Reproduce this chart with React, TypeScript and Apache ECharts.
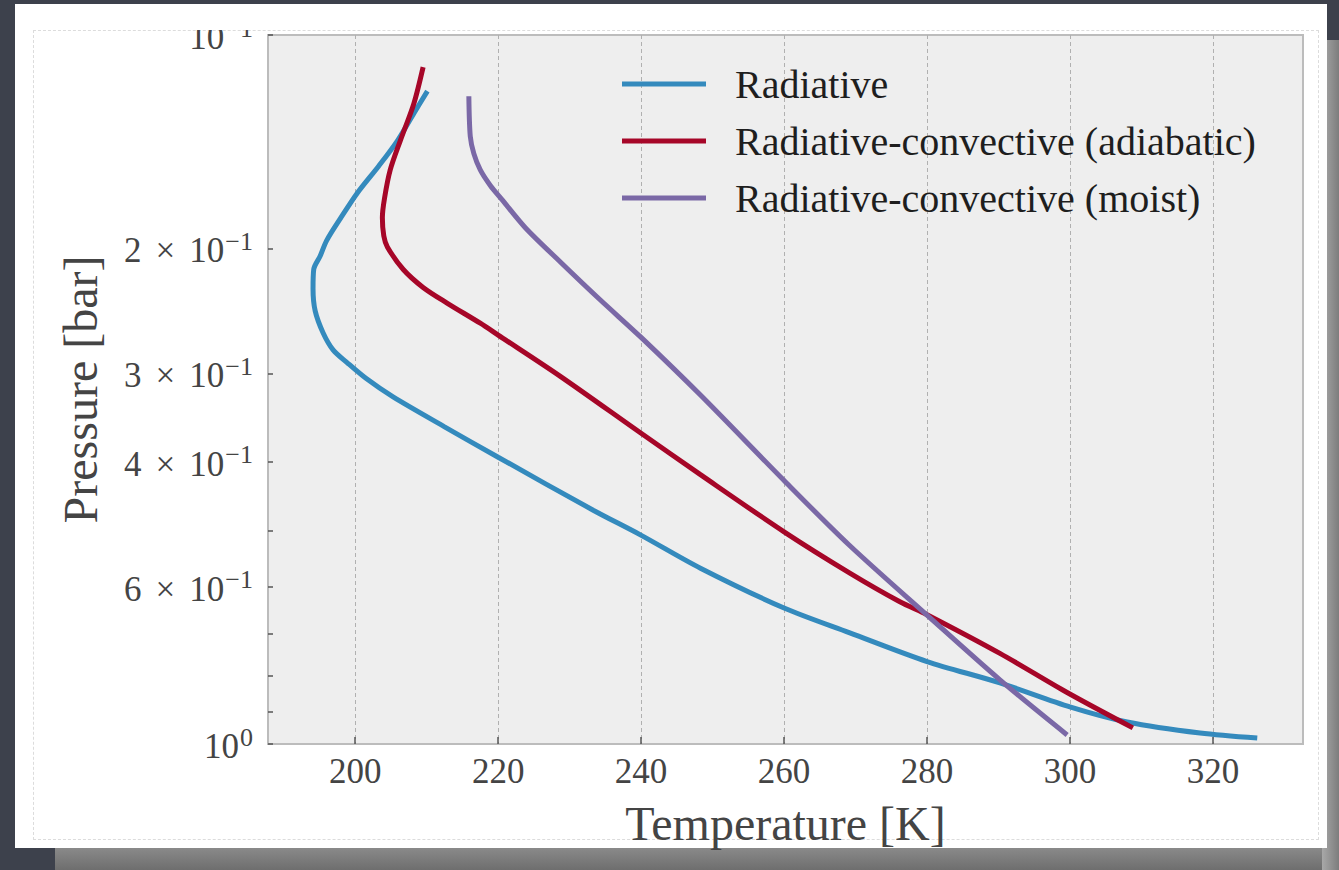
import React, { useEffect, useRef } from "react";
import * as echarts from "echarts";

// Radiative profile (temperature K, pressure bar)
const radiativeT = [210.1, 208.2, 205.9, 203.3, 200.3, 198.0, 196.0, 195.1, 194.2, 194.1, 194.4, 195.5, 196.9, 198.9, 201.5, 205.3, 212.5, 220.0, 233.3, 239.9, 248.3, 260.0, 269.2, 280.0, 290.2, 300.1, 308.0, 318.2, 326.2];
const radiativeP = [0.120, 0.129, 0.141, 0.153, 0.167, 0.181, 0.195, 0.205, 0.214, 0.228, 0.245, 0.263, 0.278, 0.290, 0.305, 0.324, 0.357, 0.394, 0.468, 0.507, 0.565, 0.643, 0.697, 0.765, 0.820, 0.887, 0.931, 0.965, 0.981];

// Radiative-convective (adiabatic)
const adiabaticT = [209.5, 208.2, 206.3, 204.9, 204.1, 203.8, 204.0, 204.5, 206.7, 209.5, 212.9, 217.5, 220.0, 228.7, 239.9, 248.3, 260.0, 269.2, 276.2, 280.0, 290.2, 299.6, 308.8];
const adiabaticP = [0.111, 0.125, 0.141, 0.155, 0.170, 0.181, 0.192, 0.199, 0.214, 0.227, 0.239, 0.255, 0.265, 0.303, 0.364, 0.417, 0.502, 0.574, 0.630, 0.657, 0.745, 0.846, 0.949];

// Radiative-convective (moist)
const moistT = [215.9, 216.1, 216.6, 217.5, 218.9, 220.6, 223.8, 228.7, 234.3, 240.0, 248.3, 259.9, 269.1, 280.0, 290.2, 299.6];
const moistP = [0.122, 0.139, 0.147, 0.155, 0.163, 0.171, 0.187, 0.209, 0.2365, 0.267, 0.322, 0.424, 0.524, 0.658, 0.812, 0.971];

const seriesNames = ["Radiative", "Radiative-convective (adiabatic)", "Radiative-convective (moist)"];
const seriesColors = ["#348ABD", "#A60628", "#7A68A6"];

const xTickValues = [200, 220, 240, 260, 280, 300, 320];
const yLabelValues = [0.1, 0.2, 0.3, 0.4, 0.6, 1];
const yTickValues = [0.1, 0.2, 0.3, 0.4, 0.5, 0.6, 0.7, 0.8, 0.9, 1];

const xTitle = "Temperature [K]";
const yTitle = "Pressure [bar]";

const FONT = "'Liberation Serif', 'DejaVu Serif', serif";

function pairs(t: number[], p: number[]) {
  return t.map((v, i) => [v, p[i]]);
}

function yLabel(v: number): string {
  if (Math.abs(v - 1) < 1e-9) return "{b|10}{s|0}";
  if (Math.abs(v - 0.1) < 1e-9) return "{t|10}{s|\u22121}";
  const m = Math.round(v * 10);
  return `{b|${m}}{x|\u00d7}{b|10}{s|\u22121}`;
}

export default function App() {
  const ref = useRef<HTMLDivElement>(null);

  useEffect(() => {
    if (!ref.current) return;
    const chart = echarts.init(ref.current, undefined, { renderer: "svg" });
    const data = [pairs(radiativeT, radiativeP), pairs(adiabaticT, adiabaticP), pairs(moistT, moistP)];
    const labelBase = { fontFamily: FONT, fontSize: 35, color: "#444444", lineHeight: 40, verticalAlign: "bottom" };
    chart.setOption({
      animation: false,
      backgroundColor: "transparent",
      grid: {
        left: 268,
        top: 35,
        right: 36,
        bottom: 126,
        show: true,
        backgroundColor: "#eeeeee",
        borderColor: "#bcbcbc",
        borderWidth: 2,
        containLabel: false,
        outerBoundsMode: "none",
      },
      legend: {
        orient: "vertical",
        left: 622,
        top: 64,
        padding: 0,
        itemWidth: 84,
        itemHeight: 5,
        itemGap: 17,
        icon: "rect",
        selectedMode: false,
        textStyle: { fontFamily: FONT, fontSize: 40, color: "#1e1e1e", lineHeight: 40, padding: [0, 0, 0, 24] },
        data: seriesNames,
      },
      xAxis: {
        type: "value",
        min: 187.8,
        max: 332.6,
        name: xTitle,
        nameLocation: "middle",
        nameGap: 55,
        nameTextStyle: { fontFamily: FONT, fontSize: 48, color: "#444444" },
        axisLine: { show: false },
        axisTick: { show: true, inside: true, length: 7, customValues: xTickValues, lineStyle: { color: "#555555", width: 1.5 } },
        axisLabel: { customValues: xTickValues, fontFamily: FONT, fontSize: 35, color: "#444444", margin: 10 },
        splitLine: { show: true, lineStyle: { color: "#b0b0b0", width: 1, type: [4, 3] } },
      },
      yAxis: {
        type: "log",
        logBase: 10,
        min: 0.1,
        max: 1,
        inverse: true,
        name: yTitle,
        nameLocation: "middle",
        nameGap: 164,
        nameRotate: 90,
        nameTextStyle: { fontFamily: FONT, fontSize: 48, color: "#444444" },
        axisLine: { show: false },
        axisTick: { show: true, inside: true, length: 5, customValues: yTickValues, lineStyle: { color: "#555555", width: 1.5 } },
        axisLabel: {
          customValues: yLabelValues,
          margin: 15,
          formatter: yLabel,
          rich: {
            b: labelBase,
            x: { ...labelBase, padding: [0, 14, 0, 14] },
            t: { ...labelBase, padding: [12, 0, 0, 0] },
            s: { fontFamily: FONT, fontSize: 26, color: "#444444", lineHeight: 20, verticalAlign: "top", padding: [0, 0, 0, 1] },
          },
        },
        splitLine: { show: false },
        minorSplitLine: { show: false },
      },
      series: seriesNames.map((name, i) => ({
        name,
        type: "line",
        data: data[i],
        showSymbol: false,
        symbol: "none",
        smooth: 0.3,
        clip: true,
        itemStyle: { color: seriesColors[i] },
        lineStyle: { color: seriesColors[i], width: 5 },
        z: 2 + i,
      })),
    });
    return () => chart.dispose();
  }, []);

  return (
    <div style={{ position: "fixed", left: 0, top: 0, width: 1339, height: 870, background: "#3d414c", overflow: "hidden" }}>
      <div style={{ position: "absolute", left: 55, top: 846, width: 1284, height: 24, background: "linear-gradient(#8c8c8c, #6e6e6e)" }} />
      <div style={{ position: "absolute", left: 1322, top: 40, width: 17, height: 830, background: "linear-gradient(90deg, #a8a8a8, #7d7d7d)" }} />
      <div style={{ position: "absolute", left: 15, top: 4, width: 1312, height: 844, background: "#ffffff" }} />
      <div style={{ position: "absolute", left: 33, top: 30, width: 1284, height: 808, border: "1px dashed #dcdcdc" }} />
      <div ref={ref} style={{ position: "absolute", left: 0, top: 0, width: 1339, height: 870 }} />
      <div style={{ position: "absolute", left: 150, top: 4, width: 116, height: 26, background: "#ffffff" }} />
    </div>
  );
}
